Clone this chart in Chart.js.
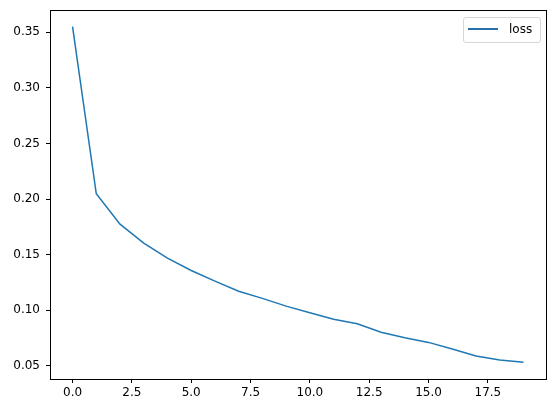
<!DOCTYPE html>
<html>
<head>
<meta charset="utf-8">
<script src="https://cdn.jsdelivr.net/npm/chart.js@4.4.1/dist/chart.umd.min.js"></script>
<style>
  body { margin: 0; background: #fff; }
  #wrap { position: relative; width: 556px; height: 413px; }
  #legend {
    position: absolute; left: 463px; top: 17px; width: 76px; height: 24px;
    border: 1px solid #d6d6d6; border-radius: 3px; background: rgba(255,255,255,0.8);
    font-family: "DejaVu Sans", sans-serif; font-size: 12px; color: #000;
  }
  #legend .swatch { position: absolute; left: 4px; top: 10px; width: 30px; height: 2px; background: #2a6fa8; }
  #legend .label { position: absolute; left: 45px; top: 4px; }
</style>
</head>
<body>
<div id="wrap">
  <canvas id="chart" width="556" height="413"></canvas>
  <div id="legend"><span class="swatch"></span><span class="label">loss</span></div>
</div>
<script>
// training loss per epoch
const epochs = [0, 1, 2, 3, 4, 5, 6, 7, 8, 9, 10, 11, 12, 13, 14, 15, 16, 17, 18, 19];
const loss = [0.355, 0.2048, 0.1775, 0.1604, 0.1469, 0.1358, 0.1263, 0.1172, 0.1108, 0.1038,
              0.0978, 0.0920, 0.0880, 0.0804, 0.0754, 0.0712, 0.0652, 0.0590, 0.0553, 0.0533];
const xTicks = [0, 2.5, 5, 7.5, 10, 12.5, 15, 17.5];
const yTicks = [0.05, 0.10, 0.15, 0.20, 0.25, 0.30, 0.35];

let points = [];
for (let i = 0; i < epochs.length; i++) {
    points.push({x: epochs[i], y: loss[i]});
}

// matplotlib style frame around the plot area
const frame = {
    id: 'frame',
    afterDraw(chart) {
        let ctx = chart.ctx;
        let a = chart.chartArea;
        ctx.save();
        ctx.strokeStyle = '#000';
        ctx.lineWidth = 1;
        ctx.strokeRect(Math.round(a.left) + 0.5, Math.round(a.top) + 0.5,
            Math.round(a.right - a.left), Math.round(a.bottom - a.top));
        ctx.restore();
    }
};

let font = {family: 'DejaVu Sans', size: 12};
let tickGrid = {display: true, drawOnChartArea: false, drawTicks: true, tickLength: 4, color: '#000', lineWidth: 1};

new Chart(document.getElementById('chart'), {
    type: 'line',
    data: {
        datasets: [{
            label: 'loss',
            data: points,
            borderColor: '#1f77b4',
            borderWidth: 1.5,
            pointRadius: 0,
            fill: false,
            tension: 0
        }]
    },
    options: {
        responsive: false,
        animation: false,
        layout: {padding: {top: 10, right: 10, left: 0, bottom: 0}},
        plugins: {legend: {display: false}, tooltip: {enabled: false}},
        scales: {
            x: {
                type: 'linear',
                min: -0.95,
                max: 19.95,
                border: {display: false},
                grid: tickGrid,
                afterBuildTicks: function(scale) { scale.ticks = xTicks.map(v => ({value: v})); },
                afterFit: function(scale) {
                    scale.height = 34;
                    scale.paddingLeft = 0;
                    scale.paddingRight = 0;
                },
                ticks: {color: '#000', font: font, padding: 3, maxRotation: 0,
                        callback: v => v.toFixed(1)}
            },
            y: {
                type: 'linear',
                min: 0.0383,
                max: 0.37,
                border: {display: false},
                grid: tickGrid,
                afterBuildTicks: function(scale) { scale.ticks = yTicks.map(v => ({value: v})); },
                afterFit: function(scale) {
                    scale.width = 50;
                    scale.paddingTop = 0;
                    scale.paddingBottom = 0;
                },
                ticks: {color: '#000', font: font, padding: 6,
                        callback: v => v.toFixed(2)}
            }
        }
    },
    plugins: [frame]
});
</script>
</body>
</html>
